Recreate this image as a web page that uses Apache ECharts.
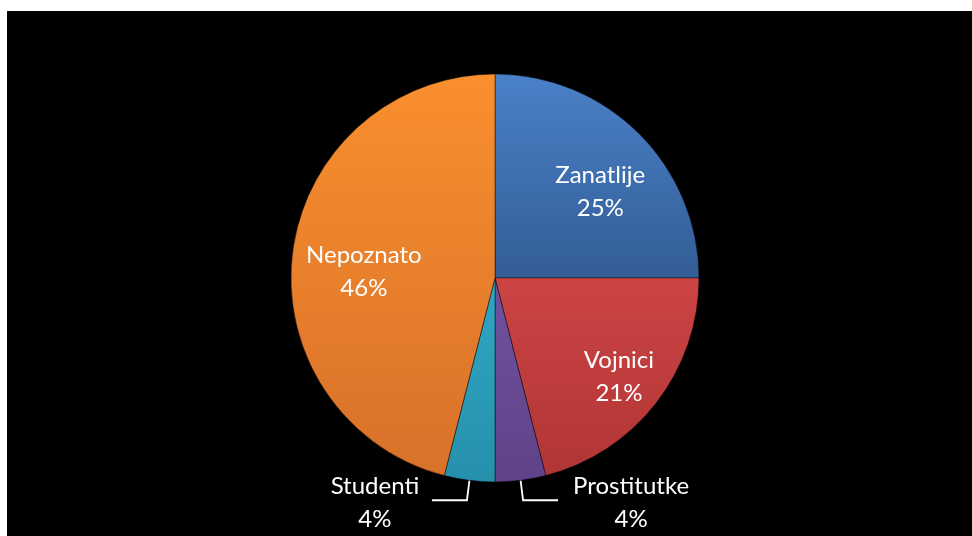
<!DOCTYPE html>
<html>
<head>
<meta charset="utf-8">
<script src="https://cdn.jsdelivr.net/npm/echarts@6/dist/echarts.min.js"></script>
<style>
  html, body { margin: 0; padding: 0; background: #ffffff; width: 972px; height: 536px; overflow: hidden; }
  #chart { position: absolute; left: 7px; top: 11px; width: 965px; height: 525px; }
</style>
</head>
<body>
<div id="chart"></div>
<script>
// Data
const categories = ['Zanatlije', 'Vojnici', 'Prostitutke', 'Studenti', 'Nepoznato'];
const values = [25, 21, 4, 4, 46];
const colorsTop = ['#4a81c8', '#cc4444', '#7052a0', '#2fa7c4', '#f98f2e'];
const colorsBottom = ['#335d96', '#b13535', '#5f4287', '#2690ab', '#d8712a'];
const insideLabel = [true, true, false, false, true];
const labelShift = [[31, -12], [41, 34], [6, 3], [10, 3], [-27, 7]];

const chart = echarts.init(document.getElementById('chart'));

const FONT = 'Lato';
const data = categories.map((name, i) => ({
  name: name,
  value: values[i],
  itemStyle: {
    color: new echarts.graphic.LinearGradient(0, 0, 0, 1, [
      { offset: 0, color: colorsTop[i] },
      { offset: 1, color: colorsBottom[i] }
    ])
  },
  label: insideLabel[i] ? {
    position: 'inside',
    formatter: '{b}\n{d}%'
  } : {
    position: 'outside',
    formatter: '{n|{b}}\n{p|{d}%}'
  },
  labelLine: { show: !insideLabel[i] }
}));

chart.setOption({
  backgroundColor: '#000000',
  animation: false,
  series: [{
    type: 'pie',
    center: [488, 267],
    radius: [0, 204],
    startAngle: 90,
    clockwise: true,
    avoidLabelOverlap: false,
    data: data,
    itemStyle: {
      borderColor: 'rgba(0,0,0,0.45)',
      borderWidth: 1
    },
    label: {
      color: '#ffffff',
      fontFamily: FONT,
      fontSize: 24,
      lineHeight: 33,
      align: 'center',
      rich: {
        n: { fontFamily: FONT, fontSize: 24, color: '#ffffff', lineHeight: 33, width: 124, align: 'center' },
        p: { fontFamily: FONT, fontSize: 24, color: '#ffffff', lineHeight: 33, width: 124, align: 'center' }
      }
    },
    labelLine: {
      length: 20,
      length2: 35,
      lineStyle: { color: '#ffffff', width: 1.8 }
    },
    labelLayout: function (params) {
      const s = labelShift[params.dataIndex];
      return { dx: s[0], dy: s[1] };
    }
  }]
});
</script>
</body>
</html>
